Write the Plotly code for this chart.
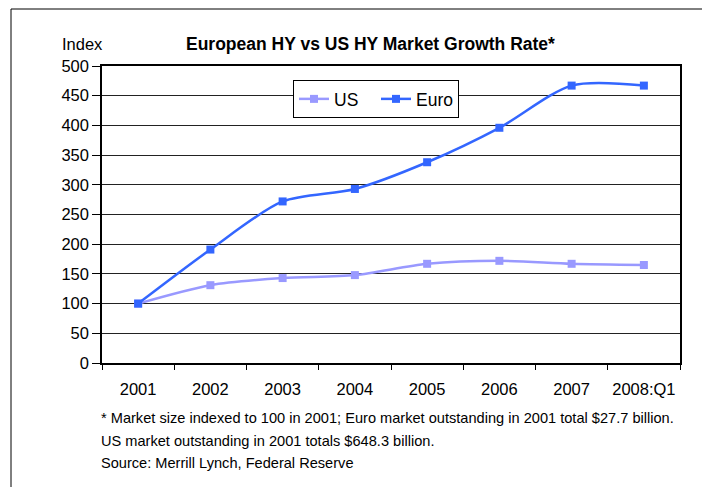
import plotly.graph_objects as go

categories = ["2001", "2002", "2003", "2004", "2005", "2006", "2007", "2008:Q1"]
us_values = [100, 131, 143, 148, 167, 172, 167, 165]
euro_values = [100, 191, 272, 293, 338, 396, 467, 467]
y_ticks = [0, 50, 100, 150, 200, 250, 300, 350, 400, 450, 500]

# page body has an 8px margin, so the figure is drawn from (8, 8)
OFF = 8
W, H = 710 - OFF, 487 - OFF
L, R, T, B = 102 - OFF, 680 - OFF, 66 - OFF, 363 - OFF
pw, ph = R - L, B - T


def px(x):
    return (x - OFF - L) / pw


def py(y):
    return (B - (y - OFF)) / ph


FONT = "Liberation Sans, Arial, sans-serif"

fig = go.Figure()
fig.add_trace(go.Scatter(
    x=categories, y=us_values, name="US", mode="lines+markers",
    line=dict(color="#9999FF", width=2.5, shape="spline", smoothing=0.8),
    marker=dict(symbol="square", size=8, color="#9999FF"),
))
fig.add_trace(go.Scatter(
    x=categories, y=euro_values, name="Euro", mode="lines+markers",
    line=dict(color="#3366FF", width=2.5, shape="spline", smoothing=0.8),
    marker=dict(symbol="square", size=8, color="#3366FF"),
))

fig.update_layout(
    width=W, height=H,
    margin=dict(l=L, r=W - R, t=T, b=H - B, pad=0),
    paper_bgcolor="white", plot_bgcolor="white",
    font=dict(family=FONT, color="black", size=16),
    showlegend=True,
    legend=dict(
        orientation="h", x=px(293), y=py(80), xanchor="left", yanchor="top",
        bgcolor="white", bordercolor="black", borderwidth=1,
        font=dict(family=FONT, size=17.5, color="black"),
        itemwidth=30, tracegroupgap=0, entrywidth=37,
    ),
    xaxis=dict(
        type="category", range=[-0.5, 7.5],
        tickson="boundaries", ticks="outside", ticklen=5, tickcolor="black",
        showline=True, linecolor="black", linewidth=1.5, mirror=True,
        showgrid=False, zeroline=False, tickangle=0,
        tickfont=dict(family=FONT, size=16.5), ticklabelstandoff=10,
    ),
    yaxis=dict(
        range=[0, 500], tickvals=y_ticks,
        ticks="outside", ticklen=8, tickcolor="black",
        showline=True, linecolor="black", linewidth=1.5, mirror=True,
        showgrid=True, gridcolor="#222222", gridwidth=1, zeroline=False,
        tickfont=dict(family=FONT, size=16.5),
    ),
    shapes=[dict(
        type="rect", xref="paper", yref="paper",
        x0=px(11), x1=px(707), y0=py(9), y1=py(500),
        line=dict(color="black", width=1), fillcolor="rgba(0,0,0,0)", layer="below",
    )],
    annotations=[
        dict(text="<b>European HY vs US HY Market Growth Rate*</b>", xref="paper", yref="paper",
             x=px(370), y=py(44), xanchor="center", yanchor="middle", showarrow=False,
             font=dict(family=FONT, size=17.5)),
        dict(text="Index", xref="paper", yref="paper",
             x=px(82), y=py(44), xanchor="center", yanchor="middle", showarrow=False,
             font=dict(family=FONT, size=16.5)),
        dict(text="* Market size indexed to 100 in 2001; Euro market outstanding in 2001 total $27.7 billion.",
             xref="paper", yref="paper", x=px(99), y=py(418), xanchor="left", yanchor="middle",
             showarrow=False, font=dict(family=FONT, size=14.6)),
        dict(text="US market outstanding in 2001 totals $648.3 billion.",
             xref="paper", yref="paper", x=px(99), y=py(441), xanchor="left", yanchor="middle",
             showarrow=False, font=dict(family=FONT, size=14.6)),
        dict(text="Source: Merrill Lynch, Federal Reserve",
             xref="paper", yref="paper", x=px(99), y=py(463), xanchor="left", yanchor="middle",
             showarrow=False, font=dict(family=FONT, size=14.6)),
    ],
)

fig.write_html("out.html")
